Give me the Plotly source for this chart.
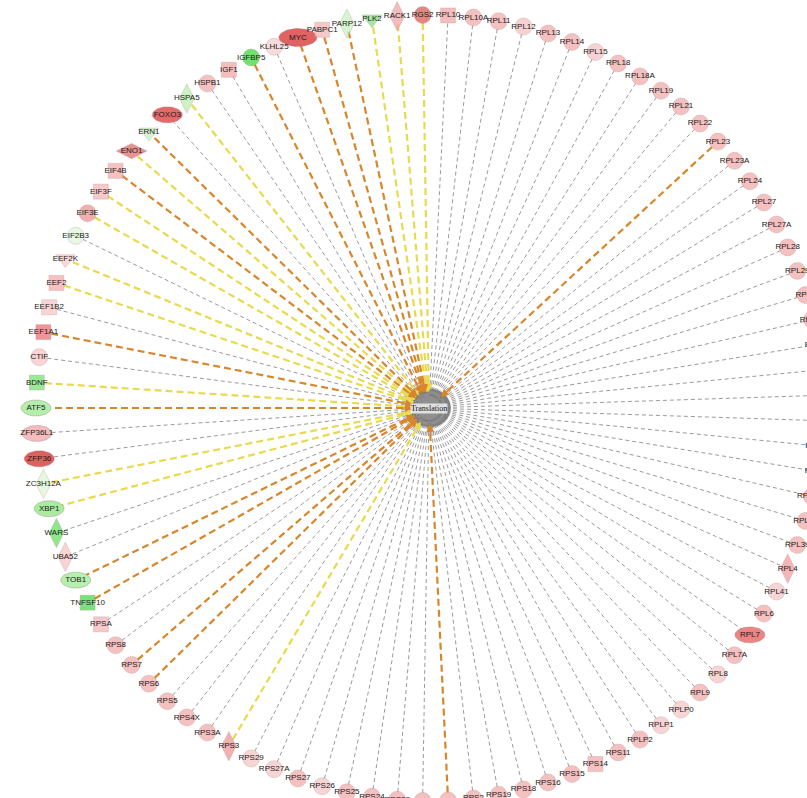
import math
import plotly.graph_objects as go

# Genes around the hub, clockwise starting at 9 o'clock
genes = ["ATF5", "BDNF", "CTIF", "EEF1A1", "EEF1B2", "EEF2", "EEF2K", "EIF2B3", "EIF3E", "EIF3F",
         "EIF4B", "ENO1", "ERN1", "FOXO3", "HSPA5", "HSPB1", "IGF1", "IGFBP5", "KLHL25", "MYC",
         "PABPC1", "PARP12", "PLK2", "RACK1", "RGS2", "RPL10", "RPL10A", "RPL11", "RPL12", "RPL13",
         "RPL14", "RPL15", "RPL18", "RPL18A", "RPL19", "RPL21", "RPL22", "RPL23", "RPL23A", "RPL24",
         "RPL27", "RPL27A", "RPL28", "RPL29", "RPL3", "RPL30", "RPL31", "RPL32", "RPL34", "RPL35",
         "RPL35A", "RPL36", "RPL37A", "RPL38", "RPL39", "RPL4", "RPL41", "RPL6", "RPL7", "RPL7A",
         "RPL8", "RPL9", "RPLP0", "RPLP1", "RPLP2", "RPS11", "RPS14", "RPS15", "RPS16", "RPS18",
         "RPS19", "RPS2", "RPS20", "RPS21", "RPS23", "RPS24", "RPS25", "RPS26", "RPS27", "RPS27A",
         "RPS29", "RPS3", "RPS3A", "RPS4X", "RPS5", "RPS6", "RPS7", "RPS8", "RPSA", "TNFSF10",
         "TOB1", "UBA52", "WARS", "XBP1", "ZC3H12A", "ZFP36", "ZFP36L1"]

# Node shape by molecule type
shape_of = {
    "ATF5": "ellipse", "BDNF": "square", "EEF1A1": "square", "EEF1B2": "square", "EEF2": "square",
    "EEF2K": "triangle-down", "EIF3F": "square", "EIF4B": "square", "ENO1": "diamond-wide",
    "ERN1": "triangle-down", "FOXO3": "ellipse", "HSPA5": "diamond-tall", "IGF1": "square",
    "MYC": "ellipse", "PABPC1": "square", "PARP12": "diamond-tall", "PLK2": "triangle-down",
    "RACK1": "diamond-tall", "RPL10": "square", "RPL4": "diamond-tall", "RPL7": "ellipse",
    "RPS14": "square", "RPS3": "diamond-tall", "RPSA": "square", "TNFSF10": "square",
    "TOB1": "ellipse", "UBA52": "diamond-tall", "WARS": "diamond-tall", "XBP1": "ellipse",
    "ZC3H12A": "diamond-tall", "ZFP36": "ellipse", "ZFP36L1": "ellipse",
}

# Expression colour of each node (red = up, green = down)
color_of = {
    "ATF5": "#b3efab", "BDNF": "#6fe06a", "CTIF": "#f6c2c2", "EEF1A1": "#e86a6a", "EEF1B2": "#f6c4c4",
    "EEF2": "#f3a8a8", "EEF2K": "#f7c8c8", "EIF2B3": "#ddf7d8", "EIF3E": "#ee8e8e", "EIF3F": "#f3b2b2",
    "EIF4B": "#f3a8a8", "ENO1": "#e06464", "ERN1": "#c2f3bb", "FOXO3": "#e46a6a", "HSPA5": "#b5f0ad",
    "HSPB1": "#f3a8a8", "IGF1": "#f3a2a2", "IGFBP5": "#2fd82f", "KLHL25": "#f6cccc", "MYC": "#e06262",
    "PABPC1": "#f3b2b2", "PARP12": "#c6f3bf", "PLK2": "#80e07b", "RACK1": "#f0a2a2", "RGS2": "#d9534f",
    "RPL10": "#f0a0a0", "RPL4": "#f09898", "RPL7": "#ec8484", "RPS3": "#ef9090", "RPSA": "#f3b2b2",
    "TNFSF10": "#3fd83f", "TOB1": "#b5f0ad", "UBA52": "#f6c2c2", "WARS": "#5fdd5a", "XBP1": "#a9eca1",
    "ZC3H12A": "#d9f7d3", "ZFP36": "#e06060", "ZFP36L1": "#f4bcbc",
    "RPL41": "#f6c4c4", "RPL8": "#f6c4c4", "RPLP0": "#f6c4c4", "RPLP1": "#f6c4c4", "RPS26": "#f6c4c4",
    "RPS27A": "#f6c4c4", "RPS29": "#f6c4c4", "RPL12": "#f6c0c0", "RPL15": "#f6c0c0",
}
default_color = "#f2a6a6"

# Relationship to the hub: predicted activation / inconsistent finding / not predicted
orange_edges = ["ATF5", "EEF1A1", "EIF4B", "ERN1", "IGFBP5", "MYC", "PABPC1", "PARP12",
                "RPL23", "RPS20", "RPS6", "RPS7", "TNFSF10", "TOB1"]
yellow_edges = ["BDNF", "EEF2", "EEF2K", "EIF3E", "EIF3F", "ENO1", "HSPA5", "PLK2", "RACK1",
                "RGS2", "RPS3", "XBP1", "ZC3H12A"]

hub_label = "Translation"

# Layout geometry (pixel space)
W, H = 807, 798
cx, cy, R = 429, 408, 393
n = len(genes)

def pos(i, r=R):
    th = math.radians(270 + i * 360.0 / n)
    return cx + r * math.sin(th), cy - r * math.cos(th)

fig = go.Figure()

# Edges
edge_style = {
    "gray": dict(color="#8e8e8e", width=0.9, dash="4px,3px"),
    "orange": dict(color="#d8862c", width=2.2, dash="7px,4px"),
    "yellow": dict(color="#e8da4e", width=2.2, dash="7px,4px"),
}
groups = {"gray": [], "yellow": [], "orange": []}
for i, g in enumerate(genes):
    kind = "orange" if g in orange_edges else "yellow" if g in yellow_edges else "gray"
    groups[kind].append(i)

for kind in ["gray", "yellow", "orange"]:
    xs, ys = [], []
    for i in groups[kind]:
        x0, y0 = pos(i, R - 8)
        x1, y1 = pos(i, 12)
        xs += [x0, x1, None]
        ys += [y0, y1, None]
    fig.add_trace(go.Scatter(x=xs, y=ys, mode="lines", line=edge_style[kind],
                             hoverinfo="skip", showlegend=False))

# Arrowheads near the hub for coloured edges
for kind in ["yellow", "orange"]:
    for i in groups[kind]:
        x0, y0 = pos(i, 30)
        x1, y1 = pos(i, 16)
        fig.add_annotation(x=x1, y=y1, ax=x0, ay=y0, xref="x", yref="y", axref="x", ayref="y",
                           showarrow=True, arrowhead=2, arrowsize=1, arrowwidth=1.6,
                           arrowcolor=edge_style[kind]["color"], text="")

# Hub node
fig.add_shape(type="circle", x0=cx - 20, x1=cx + 22, y0=cy - 19, y1=cy + 19,
              fillcolor="rgba(115,115,115,0.8)", line=dict(width=0), layer="above")

# Ellipse-shaped nodes
for i, g in enumerate(genes):
    if shape_of.get(g) != "ellipse":
        continue
    x, y = pos(i)
    a = 19 if g == "MYC" else 15
    b = 9 if g == "MYC" else 8
    xs = [x + a * math.cos(t * math.pi / 24) for t in range(49)]
    ys = [y + b * math.sin(t * math.pi / 24) for t in range(49)]
    fig.add_trace(go.Scatter(x=xs, y=ys, mode="lines", fill="toself",
                             fillcolor=color_of.get(g, default_color),
                             line=dict(color="rgba(150,120,120,0.6)", width=0.6),
                             hoverinfo="skip", showlegend=False))

# Other nodes
size_of = {"circle": 17, "square": 15, "triangle-down": 17, "diamond-tall": 21, "diamond-wide": 22}
mx, my, msym, mcol, msz = [], [], [], [], []
for i, g in enumerate(genes):
    s = shape_of.get(g, "circle")
    if s == "ellipse":
        continue
    x, y = pos(i)
    mx.append(x); my.append(y); msym.append(s)
    mcol.append(color_of.get(g, default_color)); msz.append(size_of[s])
fig.add_trace(go.Scatter(x=mx, y=my, mode="markers",
                         marker=dict(symbol=msym, color=mcol, size=msz,
                                     line=dict(color="rgba(170,120,120,0.6)", width=0.6)),
                         hoverinfo="skip", showlegend=False))

# Labels
lx, ly = zip(*[pos(i) for i in range(n)])
fig.add_trace(go.Scatter(x=list(lx), y=list(ly), mode="text", text=genes,
                         textposition="middle center",
                         textfont=dict(family="Liberation Sans, Arial", size=8, color="#1a1a1a"),
                         hoverinfo="skip", showlegend=False))
fig.add_annotation(x=cx, y=cy, xref="x", yref="y", text=hub_label, showarrow=False,
                   font=dict(family="Liberation Serif, Times New Roman", size=8, color="#111"),
                   bgcolor="rgba(238,238,238,0.85)", borderpad=0)

fig.update_layout(
    width=W, height=H, margin=dict(l=0, r=0, t=0, b=0),
    paper_bgcolor="white", plot_bgcolor="white",
    xaxis=dict(range=[0, W], visible=False, fixedrange=True),
    yaxis=dict(range=[H, 0], visible=False, fixedrange=True),
)

fig.write_html("out.html")
